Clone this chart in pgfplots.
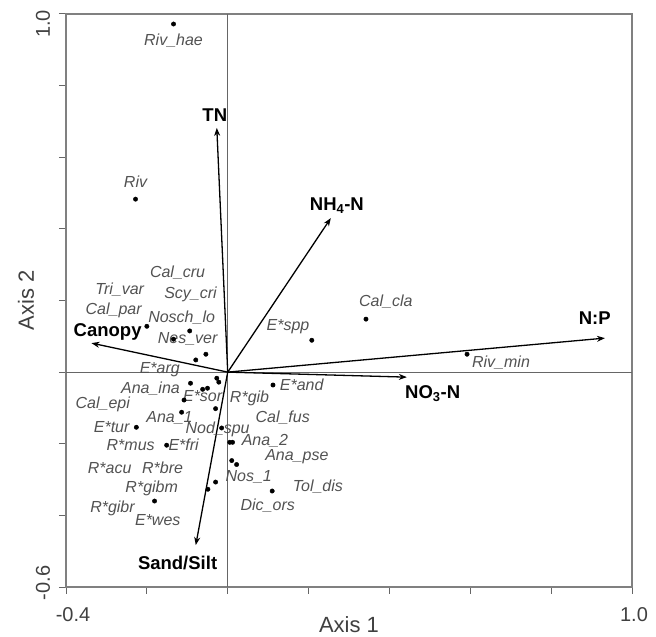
\documentclass[border=0pt]{standalone}
\usepackage{fontspec}
\setmainfont{Liberation Sans}
\usepackage{pgfplots}
\pgfplotsset{compat=1.18}
\usetikzlibrary{arrows.meta}

\pgfplotstableread{
x y
-0.134 0.972
-0.228 0.483
0.342 0.148
0.208 0.089
0.592 0.050
-0.200 0.128
-0.094 0.115
-0.134 0.092
-0.054 0.050
-0.079 0.034
-0.027 -0.017
-0.022 -0.028
-0.092 -0.031
-0.050 -0.045
-0.062 -0.048
-0.108 -0.078
-0.114 -0.112
-0.030 -0.102
-0.226 -0.154
-0.015 -0.156
-0.151 -0.204
0.005 -0.196
0.012 -0.196
0.010 -0.247
0.022 -0.258
-0.030 -0.307
-0.049 -0.327
-0.181 -0.360
0.110 -0.332
0.112 -0.036
}\species

\tikzset{
  splab/.style={font=\fontsize{16bp}{19bp}\selectfont\itshape, text=black!68, inner sep=0pt, anchor=center},
  varlab/.style={font=\fontsize{18.5bp}{22bp}\selectfont\bfseries, text=black, inner sep=0pt, anchor=center},
  vec/.style={black, line width=1.3bp, -{Stealth[length=8bp,width=6bp]}},
  tlab/.style={font=\fontsize{20bp}{24bp}\selectfont, text=black!75, inner sep=0pt, anchor=center},
}

\begin{document}
\begin{tikzpicture}[x=1bp,y=1bp]
\begin{axis}[
  width=566bp, height=573bp, scale only axis,
  xmin=-0.4, xmax=1.0, ymin=-0.6, ymax=1.0,
  axis line style={draw=black!50, line width=1.3bp},
  xtick={-0.4,-0.2,0,0.2,0.4,0.6,0.8,1.0},
  ytick={-0.6,-0.4,-0.2,0,0.2,0.4,0.6,0.8,1.0},
  xticklabels={}, yticklabels={},
  tick align=outside, tick pos=left,
  major tick length=7bp,
  tick style={draw=black!60, line width=1bp},
  xlabel={Axis 1}, ylabel={Axis 2},
  label style={font=\fontsize{22bp}{26bp}\selectfont, text=black!75, inner sep=0pt},
  xlabel style={at={(axis description cs:0.5,-0.066)}, anchor=center},
  ylabel style={at={(axis description cs:-0.0707,0.5)}, anchor=center},
  clip=false,
]
\coordinate (SW) at (rel axis cs:0,0);
\coordinate (NE) at (rel axis cs:1,1);
% origin lines
\addplot[black!60, line width=1bp] coordinates {(-0.4,0) (1.0,0)};
\addplot[black!60, line width=1bp] coordinates {(0,-0.6) (0,1.0)};
% biplot vectors
\addplot[vec] coordinates {(0,0) (-0.027,0.682)};
\addplot[vec] coordinates {(0,0) (0.255,0.430)};
\addplot[vec] coordinates {(0,0) (0.933,0.095)};
\addplot[vec] coordinates {(0,0) (0.443,-0.014)};
\addplot[vec] coordinates {(0,0) (-0.337,0.081)};
\addplot[vec] coordinates {(0,0) (-0.079,-0.483)};
% species points
\addplot[only marks, mark=*, mark size=2.2bp, black] table {\species};
% tick labels (only the extreme ones are labelled)
\node[tlab] at ([xshift=7bp,yshift=-28bp]axis cs:-0.4,-0.6) {-0.4};
\node[tlab] at ([xshift=2bp,yshift=-28bp]axis cs:1.0,-0.6) {1.0};
\node[tlab, rotate=90] at ([xshift=-23bp,yshift=-10bp]axis cs:-0.4,1.0) {1.0};
\node[tlab, rotate=90] at ([xshift=-23bp,yshift=4bp]axis cs:-0.4,-0.6) {-0.6};
% variable labels
\node[varlab] at (axis cs:-0.032,0.718) {TN};
\node[varlab] at (axis cs:0.270,0.464) {NH\textsubscript{4}-N};
\node[varlab] at (axis cs:0.908,0.151) {N:P};
\node[varlab] at (axis cs:0.507,-0.059) {NO\textsubscript{3}-N};
\node[varlab] at (axis cs:-0.297,0.112) {Canopy};
\node[varlab] at (axis cs:-0.124,-0.534) {Sand/Silt};
% species labels
\node[splab] at (axis cs:-0.134,0.925) {Riv\_hae};
\node[splab] at (axis cs:-0.228,0.531) {Riv};
\node[splab] at (axis cs:-0.124,0.277) {Cal\_cru};
\node[splab] at (axis cs:-0.092,0.218) {Scy\_cri};
\node[splab] at (axis cs:-0.267,0.229) {Tri\_var};
\node[splab] at (axis cs:-0.282,0.173) {Cal\_par};
\node[splab] at (axis cs:-0.114,0.151) {Nosch\_lo};
\node[splab] at (axis cs:-0.099,0.092) {Nes\_ver};
\node[splab] at (axis cs:-0.168,0.008) {E*arg};
\node[splab] at (axis cs:-0.191,-0.045) {Ana\_ina};
\node[splab] at (axis cs:-0.062,-0.067) {E*sor};
\node[splab] at (axis cs:0.054,-0.073) {R*gib};
\node[splab] at (axis cs:0.183,-0.036) {E*and};
\node[splab] at (axis cs:-0.309,-0.089) {Cal\_epi};
\node[splab] at (axis cs:0.136,-0.126) {Cal\_fus};
\node[splab] at (axis cs:-0.144,-0.128) {Ana\_1};
\node[splab] at (axis cs:-0.287,-0.154) {E*tur};
\node[splab] at (axis cs:-0.025,-0.159) {Nod\_spu};
\node[splab] at (axis cs:-0.240,-0.204) {R*mus};
\node[splab] at (axis cs:-0.109,-0.204) {E*fri};
\node[splab] at (axis cs:0.092,-0.193) {Ana\_2};
\node[splab] at (axis cs:0.171,-0.237) {Ana\_pse};
\node[splab] at (axis cs:-0.292,-0.268) {R*acu};
\node[splab] at (axis cs:-0.161,-0.268) {R*bre};
\node[splab] at (axis cs:0.052,-0.293) {Nos\_1};
\node[splab] at (axis cs:0.223,-0.321) {Tol\_dis};
\node[splab] at (axis cs:-0.188,-0.324) {R*gibm};
\node[splab] at (axis cs:0.099,-0.374) {Dic\_ors};
\node[splab] at (axis cs:-0.285,-0.380) {R*gibr};
\node[splab] at (axis cs:-0.173,-0.413) {E*wes};
\node[splab] at (axis cs:0.391,0.196) {Cal\_cla};
\node[splab] at (axis cs:0.149,0.126) {E*spp};
\node[splab] at (axis cs:0.676,0.025) {Riv\_min};
\end{axis}
\pgfresetboundingbox
\path ([shift={(-66bp,-50bp)}]SW) rectangle ([shift={(24bp,14bp)}]NE);
\end{tikzpicture}
\end{document}
